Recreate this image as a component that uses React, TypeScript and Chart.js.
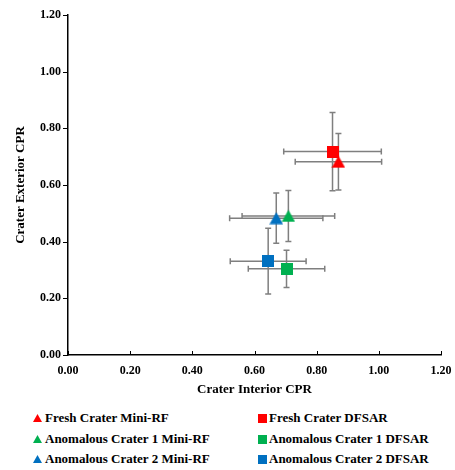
import React, { useEffect, useRef } from "react";
import { Chart, registerables } from "chart.js";

Chart.register(...registerables);

// ---- Data ----
const seriesNames = [
  "Fresh Crater Mini-RF",
  "Fresh Crater DFSAR",
  "Anomalous Crater 1 Mini-RF",
  "Anomalous Crater 1 DFSAR",
  "Anomalous Crater 2 Mini-RF",
  "Anomalous Crater 2 DFSAR",
];
const seriesColors = ["#FF0000", "#FF0000", "#00B050", "#00B050", "#0070C0", "#0070C0"];
const seriesShapes = ["triangle", "square", "triangle", "square", "triangle", "square"];
const interiorCPR = [0.87, 0.851, 0.709, 0.703, 0.67, 0.644];
const exteriorCPR = [0.682, 0.718, 0.491, 0.304, 0.483, 0.331];
const interiorErr = [0.139, 0.157, 0.149, 0.123, 0.15, 0.122];
const exteriorErr = [0.1, 0.138, 0.09, 0.066, 0.089, 0.116];
const axisMin = 0;
const axisMax = 1.2;
const axisStep = 0.2;
const xTitle = "Crater Interior CPR";
const yTitle = "Crater Exterior CPR";

const FONT = "'Liberation Serif', 'Times New Roman', serif";

function makeMarker(shape: string, color: string): HTMLCanvasElement {
  const c = document.createElement("canvas");
  if (shape === "triangle") {
    c.width = 14;
    c.height = 13;
    const g = c.getContext("2d")!;
    g.fillStyle = color;
    g.beginPath();
    g.moveTo(7, 0.5);
    g.lineTo(13.8, 12.5);
    g.lineTo(0.2, 12.5);
    g.closePath();
    g.fill();
  } else {
    c.width = 12;
    c.height = 12;
    const g = c.getContext("2d")!;
    g.fillStyle = color;
    g.fillRect(0, 0, 12, 12);
  }
  return c;
}

const errorBarPlugin = {
  id: "errorBars",
  beforeDatasetsDraw(chart: any) {
    const { ctx, scales } = chart;
    const x = scales.x;
    const y = scales.y;
    ctx.save();
    ctx.strokeStyle = "#7F7F7F";
    ctx.lineWidth = 1.5;
    const cap = 3;
    for (let i = 0; i < interiorCPR.length; i++) {
      const px = x.getPixelForValue(interiorCPR[i]);
      const py = y.getPixelForValue(exteriorCPR[i]);
      const x1 = x.getPixelForValue(interiorCPR[i] - interiorErr[i]);
      const x2 = x.getPixelForValue(interiorCPR[i] + interiorErr[i]);
      const y1 = y.getPixelForValue(exteriorCPR[i] - exteriorErr[i]);
      const y2 = y.getPixelForValue(exteriorCPR[i] + exteriorErr[i]);
      ctx.beginPath();
      ctx.moveTo(x1, py);
      ctx.lineTo(x2, py);
      ctx.moveTo(x1, py - cap);
      ctx.lineTo(x1, py + cap);
      ctx.moveTo(x2, py - cap);
      ctx.lineTo(x2, py + cap);
      ctx.moveTo(px, y1);
      ctx.lineTo(px, y2);
      ctx.moveTo(px - cap, y1);
      ctx.lineTo(px + cap, y1);
      ctx.moveTo(px - cap, y2);
      ctx.lineTo(px + cap, y2);
      ctx.stroke();
    }
    ctx.restore();
  },
  afterDraw(chart: any) {
    const { ctx, scales, chartArea } = chart;
    ctx.save();
    ctx.strokeStyle = "#000";
    ctx.lineWidth = 1;
    ctx.beginPath();
    for (let v = axisMin; v <= axisMax + 1e-9; v += axisStep) {
      const px = Math.round(scales.x.getPixelForValue(v)) + 0.5;
      ctx.moveTo(px, chartArea.bottom);
      ctx.lineTo(px, chartArea.bottom - 4);
      const py = Math.round(scales.y.getPixelForValue(v)) + 0.5;
      ctx.moveTo(chartArea.left, py);
      ctx.lineTo(chartArea.left - 5, py);
    }
    ctx.stroke();
    ctx.restore();
  },
};

export default function App() {
  const canvasRef = useRef<HTMLCanvasElement | null>(null);

  useEffect(() => {
    if (!canvasRef.current) return;
    const datasets = seriesNames.map((name, i) => ({
      label: name,
      data: [{ x: interiorCPR[i], y: exteriorCPR[i] }],
      pointStyle: makeMarker(seriesShapes[i], seriesColors[i]) as any,
      backgroundColor: seriesColors[i],
      borderColor: seriesColors[i],
      pointRadius: 7,
      order: seriesShapes[i] === "triangle" ? 0 : 1,
    }));
    const chart = new Chart(canvasRef.current, {
      type: "scatter",
      data: { datasets },
      plugins: [errorBarPlugin],
      options: {
        animation: false,
        responsive: false,
        layout: { padding: { top: 15, right: 14, left: 0, bottom: 0 } },
        plugins: { legend: { display: false }, tooltip: { enabled: false } },
        scales: {
          x: {
            type: "linear",
            min: axisMin,
            max: axisMax,
            afterFit: (s: any) => {
              s.height = 45;
              s.paddingLeft = 0;
              s.paddingRight = 0;
            },
            grid: { display: false, drawTicks: false },
            border: { display: true, color: "#000", width: 1.5 },
            ticks: {
              stepSize: axisStep,
              padding: 9,
              color: "#000",
              font: { family: FONT, size: 12, weight: "bold" },
              callback: (v: any) => Number(v).toFixed(2),
            },
            title: {
              display: true,
              text: xTitle,
              color: "#000",
              font: { family: FONT, size: 13, weight: "bold" },
              padding: { top: 0, bottom: 3 },
            },
          },
          y: {
            type: "linear",
            min: axisMin,
            max: axisMax,
            afterFit: (s: any) => {
              s.width = 68;
              s.paddingTop = 0;
              s.paddingBottom = 0;
            },
            grid: { display: false, drawTicks: false },
            border: { display: true, color: "#000", width: 1.5 },
            ticks: {
              stepSize: axisStep,
              padding: 7,
              color: "#000",
              font: { family: FONT, size: 12, weight: "bold" },
              callback: (v: any) => Number(v).toFixed(2),
            },
            title: {
              display: true,
              text: yTitle,
              color: "#000",
              font: { family: FONT, size: 13, weight: "bold" },
              padding: { top: 13, bottom: 0 },
            },
          },
        },
      } as any,
    });
    return () => chart.destroy();
  }, []);

  const rowTops = [408, 429, 449];
  const colLefts = [33, 258];

  return (
    <div style={{ position: "absolute", left: 0, top: 0, width: 455, height: 470, background: "#fff" }}>
      <canvas ref={canvasRef} width={455} height={400} style={{ display: "block", position: "absolute", left: 0, top: 0 }} />
      {seriesNames.map((name, i) => {
        const row = Math.floor(i / 2);
        const col = i % 2;
        const color = seriesColors[i];
        return (
          <div
            key={name}
            style={{
              position: "absolute",
              left: colLefts[col],
              top: rowTops[row],
              height: 20,
              display: "flex",
              alignItems: "center",
              fontFamily: FONT,
              fontWeight: "bold",
              fontSize: 13,
              color: "#000",
              whiteSpace: "nowrap",
            }}
          >
            {seriesShapes[i] === "triangle" ? (
              <svg width={9} height={8} style={{ marginRight: 3 }}>
                <polygon points="4.5,0 9,8 0,8" fill={color} />
              </svg>
            ) : (
              <svg width={9} height={9} style={{ marginRight: 2 }}>
                <rect x={0} y={0} width={9} height={9} fill={color} />
              </svg>
            )}
            <span>{name}</span>
          </div>
        );
      })}
    </div>
  );
}
